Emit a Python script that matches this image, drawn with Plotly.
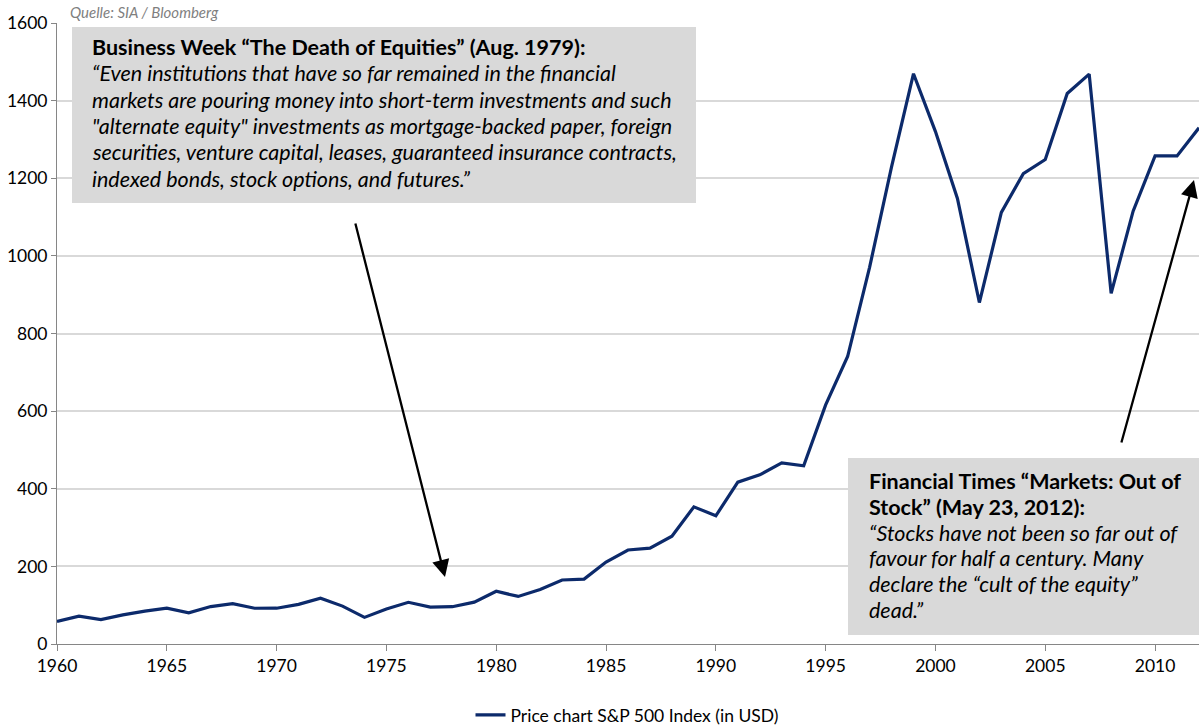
import plotly.graph_objects as go

years = list(range(1960, 2013))
sp500 = [58.1, 71.6, 63.1, 75.0, 84.8, 92.4, 80.3, 96.5, 103.9, 92.1,
         92.2, 102.1, 118.1, 97.6, 68.6, 90.2, 107.5, 95.1, 96.1, 107.9,
         135.8, 122.6, 140.6, 164.9, 167.2, 211.3, 242.2, 247.1, 277.7, 353.4,
         330.2, 417.1, 435.7, 466.5, 459.3, 615.9, 740.7, 970.4, 1229.2, 1469.3,
         1320.3, 1148.1, 879.8, 1111.9, 1211.9, 1248.3, 1418.3, 1468.4, 903.3, 1115.1,
         1257.6, 1257.6, 1330.0]

series_name = "Price chart S&P 500 Index (in USD)"
source = "Quelle: SIA / Bloomberg"

box1_lines = [
    "<b>Business Week “The Death of Equities” (Aug. 1979):</b>",
    "<i>“Even institutions that have so far remained in the financial</i>",
    "<i>markets are pouring money into short-term investments and such</i>",
    "<i>\"alternate equity\" investments as mortgage-backed paper, foreign</i>",
    "<i>securities, venture capital, leases, guaranteed insurance contracts,</i>",
    "<i>indexed bonds, stock options, and futures.”</i>",
]
box2_lines = [
    "<b>Financial Times “Markets: Out of</b>",
    "<b>Stock” (May 23, 2012):</b>",
    "<i>“Stocks have not been so far out of</i>",
    "<i>favour for half a century. Many</i>",
    "<i>declare the “cult of the equity”</i>",
    "<i>dead.”</i>",
]

W, H = 1199, 725
L, R, T, B = 57, 0, 23, 81
PW, PH = W - L - R, H - T - B


def px(x):
    return (x - L) / PW


def py(y):
    return (H - B - y) / PH


FONT = "Lato"

fig = go.Figure()
fig.add_trace(go.Scatter(
    x=years, y=sp500, mode="lines", name=series_name,
    line=dict(color="#0c2a6b", width=3.2),
))

shapes = [
    dict(type="rect", xref="paper", yref="paper", layer="above",
         x0=px(72), x1=px(696), y0=py(203), y1=py(27),
         fillcolor="#d9d9d9", line=dict(width=0)),
    dict(type="rect", xref="paper", yref="paper", layer="above",
         x0=px(848), x1=px(1210), y0=py(635), y1=py(458),
         fillcolor="#d9d9d9", line=dict(width=0)),
]

annotations = []
for i, t in enumerate(box1_lines):
    annotations.append(dict(xref="paper", yref="paper", x=px(90), y=py(47 + i * 26.3),
                            xanchor="left", yanchor="middle", text=t, showarrow=False,
                            font=dict(family=FONT, size=21.5, color="#000")))
for i, t in enumerate(box2_lines):
    annotations.append(dict(xref="paper", yref="paper", x=px(867), y=py(481 + i * 25.8),
                            xanchor="left", yanchor="middle", text=t, showarrow=False,
                            font=dict(family=FONT, size=21.5, color="#000")))

# arrows
annotations.append(dict(xref="paper", yref="paper", x=px(445), y=py(577), ax=-90, ay=-355,
                        text="", showarrow=True, arrowhead=2, arrowsize=1.5,
                        arrowwidth=2.3, arrowcolor="#000"))
annotations.append(dict(xref="paper", yref="paper", x=px(1194), y=py(180), ax=-73, ay=264,
                        text="", showarrow=True, arrowhead=2, arrowsize=1.5,
                        arrowwidth=2.3, arrowcolor="#000"))

annotations.append(dict(xref="paper", yref="paper", x=px(68), y=py(12),
                        xanchor="left", yanchor="middle", text="<i>" + source + "</i>",
                        showarrow=False, font=dict(family=FONT, size=15, color="#7f7f7f")))

fig.update_layout(
    width=W, height=H,
    margin=dict(l=L, r=R, t=T, b=B),
    plot_bgcolor="white", paper_bgcolor="white",
    font=dict(family=FONT, size=17.5, color="#000"),
    shapes=shapes, annotations=annotations,
    showlegend=True,
    legend=dict(orientation="h", xref="container", yref="container",
                x=627 / W, y=1 - 715 / H, xanchor="center", yanchor="middle",
                font=dict(size=17.5)),
)
fig.update_xaxes(range=[1960, 2012], tick0=1960, dtick=5, showgrid=False,
                 showline=True, linecolor="#868686", linewidth=1,
                 ticks="outside", ticklen=6, tickcolor="#868686", zeroline=False)
fig.update_yaxes(range=[0, 1600], dtick=200, showgrid=True, gridcolor="#d9d9d9",
                 gridwidth=1.5, showline=True, linecolor="#868686", linewidth=1,
                 ticks="outside", ticklen=5, tickcolor="#868686", zeroline=False)

fig.write_html("out.html", config={"displayModeBar": False},
               post_script="document.body.style.margin='0';")
